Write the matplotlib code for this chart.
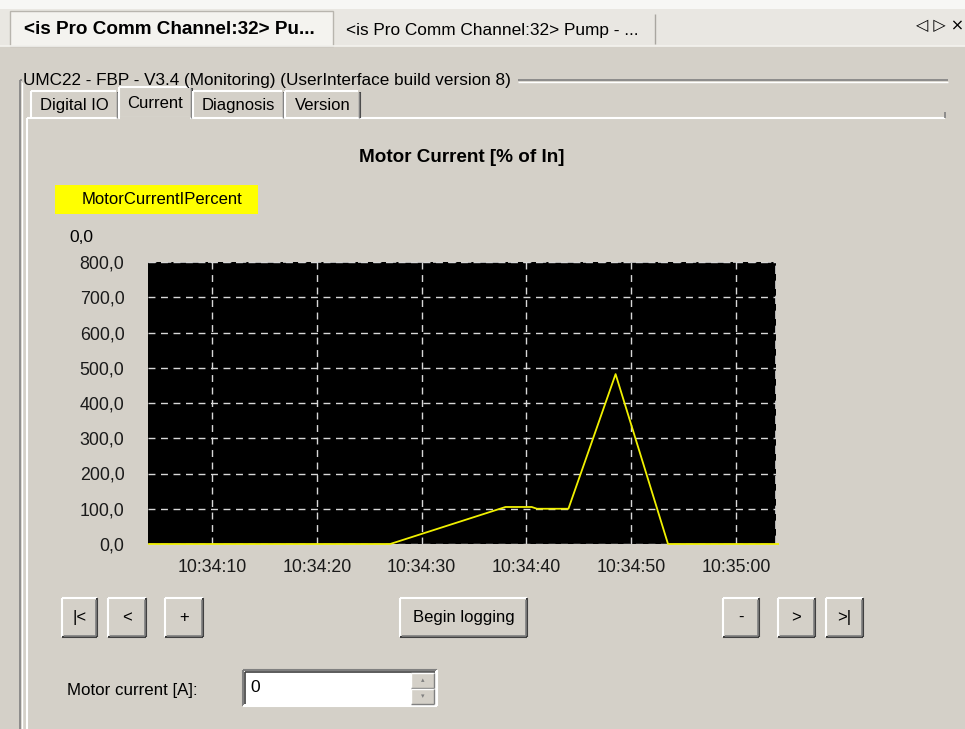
import matplotlib
matplotlib.use('Agg')
import matplotlib.pyplot as plt
import matplotlib.patches as patches
import matplotlib.dates as mdates
from matplotlib.ticker import FuncFormatter
from datetime import datetime, timedelta

plt.rcParams['font.family'] = ['Liberation Sans', 'DejaVu Sans']

# ---- data (seconds after 10:34:00, % of In) ----
sample_sec = [4, 27, 38, 40.5, 41, 44, 48.5, 53.5, 64]
motor_pct = [0, 0, 105, 105, 100, 100, 482, 0, 0]
y_ticks = [0, 100, 200, 300, 400, 500, 600, 700, 800]
x_tick_sec = [10, 20, 30, 40, 50, 60]

base = datetime(2000, 1, 1, 10, 34, 0)
times = [base + timedelta(seconds=s) for s in sample_sec]
x_ticks = [base + timedelta(seconds=s) for s in x_tick_sec]

W, H = 965, 729
BG = '#d4d0c8'
fig = plt.figure(figsize=(W / 100, H / 100), dpi=100)
fig.patch.set_facecolor(BG)

# full-figure axes in pixel coords for the window chrome
ui = fig.add_axes([0, 0, 1, 1])
ui.set_xlim(0, W)
ui.set_ylim(H, 0)
ui.axis('off')


def line(x0, y0, x1, y1, c, lw=1.0, z=2):
    ui.plot([x0, x1], [y0, y1], color=c, lw=lw, solid_capstyle='butt', zorder=z)


def button(x, y, w, h, label, fs=12):
    ui.add_patch(patches.Rectangle((x, y), w, h, facecolor=BG, edgecolor='none', zorder=2))
    line(x, y, x + w, y, 'white', 1.5)
    line(x, y, x, y + h, 'white', 1.5)
    line(x, y + h, x + w, y + h, '#404040', 1.5)
    line(x + w, y, x + w, y + h, '#404040', 1.5)
    line(x + 1.5, y + h - 1.5, x + w - 1.5, y + h - 1.5, '#808080', 1.2)
    line(x + w - 1.5, y + 1.5, x + w - 1.5, y + h - 1.5, '#808080', 1.2)
    ui.text(x + w / 2, y + h / 2, label, fontsize=fs, ha='center', va='center', zorder=3)


# top tab strip
ui.add_patch(patches.Rectangle((0, 0), W, 9, facecolor='#f7f7f5', edgecolor='none'))
ui.add_patch(patches.Rectangle((0, 9), W, 37, facecolor='#e9e7e2', edgecolor='none'))
ui.add_patch(patches.Rectangle((10, 11), 323, 35, facecolor='#f4f3ef', edgecolor='#b8b5ae', lw=1))
line(655, 14, 655, 44, '#a9a6a0', 1)
line(0, 46, W, 46, '#f4f3ef', 1.2)
ui.text(24, 29, '<is Pro Comm Channel:32> Pu...', fontsize=13.6, fontweight='bold',
        ha='left', va='center')
ui.text(346, 30, '<is Pro Comm Channel:32> Pump - ...', fontsize=12.4, ha='left', va='center')
ui.text(964, 26, '\u25C1 \u25B7 \u00D7', fontsize=11.5, ha='right', va='center', family='DejaVu Sans')

# group box
gb_y = 80
line(20, gb_y, 22, gb_y, '#808080', 1.2)
line(518, gb_y, 948, gb_y, '#808080', 1.2)
line(518, gb_y + 1.5, 948, gb_y + 1.5, 'white', 1)
line(20, gb_y, 20, H, '#808080', 1.2)
line(21.5, gb_y + 1.5, 21.5, H, 'white', 1)
ui.text(23, gb_y, 'UMC22 - FBP - V3.4 (Monitoring) (UserInterface build version 8)',
        fontsize=12.3, ha='left', va='center')

# tab control
panel_top = 118
line(27, panel_top, 945, panel_top, 'white', 1.5)
line(27, panel_top, 27, H, 'white', 1.5)
line(945, 112, 945, panel_top, '#808080', 1.2)
tabs = [('Digital IO', 31, 118, 91), ('Current', 119, 192, 87), ('Diagnosis', 193, 284, 91),
        ('Version', 285, 360, 91)]
for name, x0, x1, y0 in tabs:
    line(x0, y0, x1 - 2, y0, 'white', 1.5)
    line(x0, y0, x0, panel_top, 'white', 1.5)
    line(x1, y0 + 1, x1, panel_top, '#404040', 1.5)
    line(x1 - 1.5, y0 + 1, x1 - 1.5, panel_top, '#808080', 1)
    ui.text((x0 + x1) / 2, y0 + (panel_top - y0) / 2 + 1, name, fontsize=12,
            ha='center', va='center')
ui.add_patch(patches.Rectangle((120, 117), 70, 3, facecolor=BG, edgecolor='none', zorder=3))

# chart header items
ui.text(462, 157, 'Motor Current [% of In]', fontsize=13.6, fontweight='bold',
        ha='center', va='center')
ui.add_patch(patches.Rectangle((55, 185), 203, 29, facecolor='#ffff00', edgecolor='none'))
ui.text(162, 199, 'MotorCurrentIPercent', fontsize=12, ha='center', va='center')
ui.text(93, 237, '0,0', fontsize=12.5, ha='right', va='center')

# buttons
button(62, 598, 35, 39, '|<')
button(108, 598, 38, 39, '<')
button(165, 598, 38, 39, '+')
button(400, 598, 127, 39, 'Begin logging')
button(723, 598, 36, 39, '-')
button(778, 598, 37, 39, '>')
button(826, 598, 37, 39, '>|')

# motor current box
ui.text(67, 690, 'Motor current [A]:', fontsize=12.2, ha='left', va='center')
ui.add_patch(patches.Rectangle((244, 671), 192, 34, facecolor='white', edgecolor='none'))
line(243, 670, 437, 670, '#808080', 1.5)
line(243, 670, 243, 706, '#808080', 1.5)
line(245, 672, 435, 672, '#404040', 1.2)
line(245, 672, 245, 704, '#404040', 1.2)
line(243, 706, 437, 706, 'white', 1.5)
line(437, 670, 437, 706, 'white', 1.5)
ui.text(250, 687, '0', fontsize=12.5, ha='left', va='center')
for sy, arrow in [(673, '\u25B4'), (689, '\u25BE')]:
    ui.add_patch(patches.Rectangle((411, sy), 23, 15, facecolor=BG, edgecolor='none', zorder=2))
    line(411, sy, 434, sy, 'white', 1)
    line(411, sy, 411, sy + 15, 'white', 1)
    line(411, sy + 15, 434, sy + 15, '#808080', 1)
    line(434, sy, 434, sy + 15, '#808080', 1)
    ui.text(422.5, sy + 7.5, arrow, fontsize=5, color='#808080', ha='center', va='center',
            family='DejaVu Sans', zorder=3)

# ---- chart ----
ax = fig.add_axes([148 / W, 1 - 544 / H, 628 / W, 282 / H])
ax.set_facecolor('black')
ax.plot(times, motor_pct, color='#f0f000', lw=1.3, zorder=3, clip_on=False)
ax.set_xlim(base + timedelta(seconds=3.9), base + timedelta(seconds=63.8))
ax.set_ylim(0, 800)
ax.set_yticks(y_ticks)
ax.set_xticks(x_ticks)
ax.xaxis.set_major_formatter(mdates.DateFormatter('%H:%M:%S'))
ax.yaxis.set_major_formatter(FuncFormatter(lambda v, p: f'{v:.1f}'.replace('.', ',')))
ax.tick_params(length=0, labelsize=12.8, colors='#1a1a1a')
ax.tick_params(axis='y', pad=17)
ax.tick_params(axis='x', pad=11)
ax.grid(True, color='#d8d8d8', linestyle=(0, (5, 4)), lw=1)
ax.axhline(800, color='#d8d8d8', linestyle=(0, (5, 4)), lw=1.2)
ax.axvline(ax.get_xlim()[1], color='#d8d8d8', linestyle=(0, (5, 4)), lw=1.2)
for s in ax.spines.values():
    s.set_visible(False)

plt.savefig('out.png', dpi=100, facecolor=fig.get_facecolor())
plt.close()
